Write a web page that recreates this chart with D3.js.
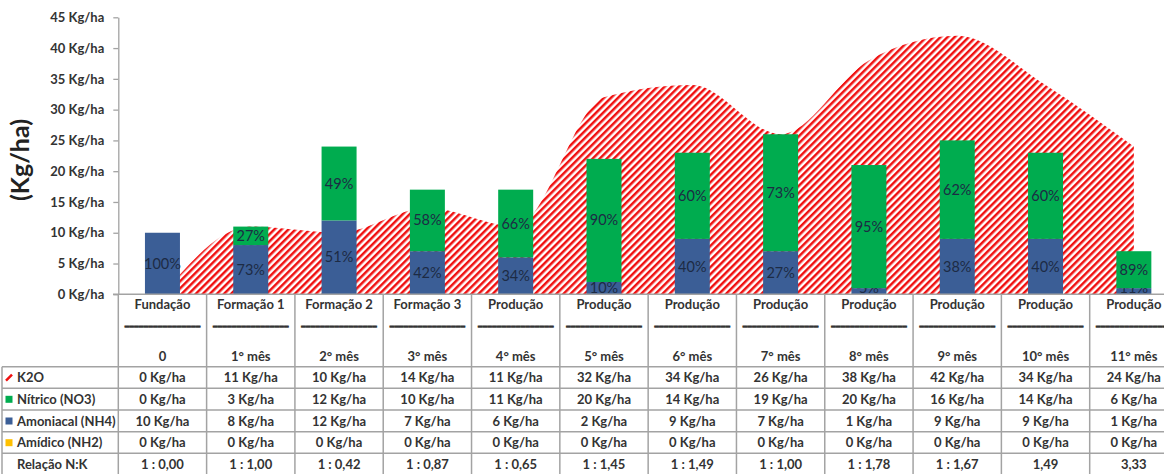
<!DOCTYPE html>
<html lang="pt">
<head>
<meta charset="UTF-8">
<script src="https://cdn.jsdelivr.net/npm/d3@7"></script>
<title>Adubação</title>
<style>
  body { margin: 0; background: #fff; }
  text { font-family: Lato, "Open Sans", sans-serif; }
</style>
</head>
<body>
<svg width="1164" height="474"></svg>
<script>
  var fases = ["Fundação", "Formação 1", "Formação 2", "Formação 3", "Produção", "Produção",
    "Produção", "Produção", "Produção", "Produção", "Produção", "Produção"]
  var meses = ["0", "1° mês", "2° mês", "3° mês", "4° mês", "5° mês", "6° mês", "7° mês",
    "8° mês", "9° mês", "10° mês", "11° mês"]
  var k2o = [0, 11, 10, 14, 11, 32, 34, 26, 38, 42, 34, 24]
  var nitrico = [0, 3, 12, 10, 11, 20, 14, 19, 20, 16, 14, 6]
  var amoniacal = [10, 8, 12, 7, 6, 2, 9, 7, 1, 9, 9, 1]
  var amidico = [0, 0, 0, 0, 0, 0, 0, 0, 0, 0, 0, 0]
  var relacao = ["1 : 0,00", "1 : 1,00", "1 : 0,42", "1 : 0,87", "1 : 0,65", "1 : 1,45",
    "1 : 1,49", "1 : 1,00", "1 : 1,78", "1 : 1,67", "1,49", "3,33"]
  var pctAmoniacal = [100, 73, 51, 42, 34, 10, 40, 27, 5, 38, 40, 11]
  var pctNitrico = [null, 27, 49, 58, 66, 90, 60, 73, 95, 62, 60, 89]
  var yTicks = [0, 5, 10, 15, 20, 25, 30, 35, 40, 45]

  var azul = "#3b5e96", verde = "#00ac4f", vermelho = "#f01010", amarelo = "#ffc000"
  var cinza = "#a3a3a3", texto = "#333"

  var svg = d3.select("svg")
  var x = d3.scaleBand().domain(d3.range(fases.length)).range([118.3, 1178])
  var y = d3.scaleLinear().domain([0, 45]).range([294.3, 17.3])
  var barW = 35

  var defs = svg.append("defs")
  // padrão listrado do K2O
  var pat = defs.append("pattern")
    .attr("id", "hatch")
    .attr("patternUnits", "userSpaceOnUse")
    .attr("width", 5).attr("height", 5)
    .attr("patternTransform", "rotate(45)")
  pat.append("rect").attr("width", 5).attr("height", 5).attr("fill", "#fff")
  pat.append("rect").attr("width", 2.5).attr("height", 5).attr("fill", vermelho)

  // área K2O
  var area = d3.area()
    .x((d, i) => x(i) + x.bandwidth() / 2)
    .y0(y(0))
    .y1(d => y(d))
    .curve(d3.curveMonotoneX)
  svg.append("path")
    .datum(k2o)
    .attr("d", area)
    .attr("fill", "url(#hatch)")

  // barras empilhadas
  var stackData = fases.map((f, i) => ({ i: i, amon: amoniacal[i], nit: nitrico[i] }))
  var series = d3.stack().keys(["amon", "nit"])(stackData)
  var cores = [azul, verde]
  var pcts = [pctAmoniacal, pctNitrico]

  series.forEach(function (s, k) {
    var g = svg.append("g")
    g.selectAll("rect")
      .data(s)
      .enter()
      .append("rect")
      .attr("x", d => x(d.data.i) + (x.bandwidth() - barW) / 2)
      .attr("width", barW)
      .attr("y", d => y(d[1]))
      .attr("height", d => y(d[0]) - y(d[1]))
      .attr("fill", cores[k])
    g.selectAll("text")
      .data(s.filter(d => pcts[k][d.data.i] != null))
      .enter()
      .append("text")
      .attr("x", d => x(d.data.i) + x.bandwidth() / 2)
      .attr("y", d => Math.min((y(d[0]) + y(d[1])) / 2 + 5, y(0) - 1))
      .attr("text-anchor", "middle")
      .attr("font-size", 14.5)
      .attr("fill", "#1d2b44")
      .text(d => pcts[k][d.data.i] + "%")
  })

  // eixo y
  var yAxis = svg.append("g")
    .attr("transform", "translate(118.3,0)")
    .call(d3.axisLeft(y).tickValues(yTicks).tickSize(5).tickSizeOuter(0).tickPadding(9)
      .tickFormat(d => d + " Kg/ha"))
  yAxis.select(".domain").attr("stroke", cinza).attr("stroke-width", 1.3)
  yAxis.selectAll(".tick line").attr("stroke", cinza).attr("stroke-width", 1.3)
  yAxis.selectAll(".tick text")
    .attr("font-size", 13).attr("font-weight", "bold").attr("fill", texto)
    .attr("font-family", "Lato, sans-serif")

  svg.append("text")
    .attr("transform", "translate(29,160) rotate(-90)")
    .attr("text-anchor", "middle")
    .attr("font-size", 25)
    .attr("font-weight", "bold")
    .attr("fill", "#222")
    .text("(Kg/ha)")

  // eixo x / tabela
  var rows = [366.7, 388.3, 410, 431.7, 453.3]
  var grid = svg.append("g").attr("stroke", cinza).attr("stroke-width", 1.5)
  grid.append("line").attr("x1", 113).attr("x2", 1178).attr("y1", y(0)).attr("y2", y(0))
  rows.forEach(function (ry) {
    grid.append("line").attr("x1", 2).attr("x2", 1178).attr("y1", ry).attr("y2", ry)
  })
  d3.range(fases.length + 1).forEach(function (i) {
    var bx = 118.3 + i * x.bandwidth()
    grid.append("line").attr("x1", bx).attr("x2", bx).attr("y1", y(0)).attr("y2", 474)
  })
  grid.append("line").attr("x1", 2).attr("x2", 2).attr("y1", rows[0]).attr("y2", 474)

  var cx = i => x(i) + x.bandwidth() / 2
  var head = svg.append("g")
    .attr("font-size", 13).attr("font-weight", "bold").attr("fill", texto)
    .attr("text-anchor", "middle")
  fases.forEach(function (f, i) {
    head.append("text").attr("x", cx(i)).attr("y", 309).text(f)
    head.append("text").attr("x", cx(i)).attr("y", 325)
      .attr("textLength", 76).attr("lengthAdjust", "spacingAndGlyphs")
      .attr("stroke", texto).attr("stroke-width", 1.1)
      .text("________________")
    head.append("text").attr("x", cx(i)).attr("y", 360.5).text(meses[i])
  })

  var linhas = [
    { nome: "K2O", vals: k2o.map(v => v + " Kg/ha"), icon: "k2o" },
    { nome: "Nítrico (NO3)", vals: nitrico.map(v => v + " Kg/ha"), icon: verde },
    { nome: "Amoniacal (NH4)", vals: amoniacal.map(v => v + " Kg/ha"), icon: azul },
    { nome: "Amídico (NH2)", vals: amidico.map(v => v + " Kg/ha"), icon: amarelo },
    { nome: "Relação N:K", vals: relacao, icon: null }
  ]
  var corpo = svg.append("g")
    .attr("font-size", 13).attr("font-weight", "bold").attr("fill", texto)
  linhas.forEach(function (l, r) {
    var cy = rows[r] + 11
    corpo.append("text").attr("x", 17).attr("y", cy + 4.5).text(l.nome)
    if (l.icon === "k2o") {
      corpo.append("path")
        .attr("d", "M6," + (cy + 3) + " L12," + (cy - 3))
        .attr("stroke", vermelho).attr("stroke-width", 2.5)
    } else if (l.icon) {
      corpo.append("rect").attr("x", 5.5).attr("y", cy - 3.5).attr("width", 7).attr("height", 7)
        .attr("fill", l.icon)
    }
    l.vals.forEach(function (v, i) {
      corpo.append("text").attr("x", cx(i)).attr("y", cy + 4.5)
        .attr("text-anchor", "middle").text(v)
    })
  })
</script>
</body>
</html>
